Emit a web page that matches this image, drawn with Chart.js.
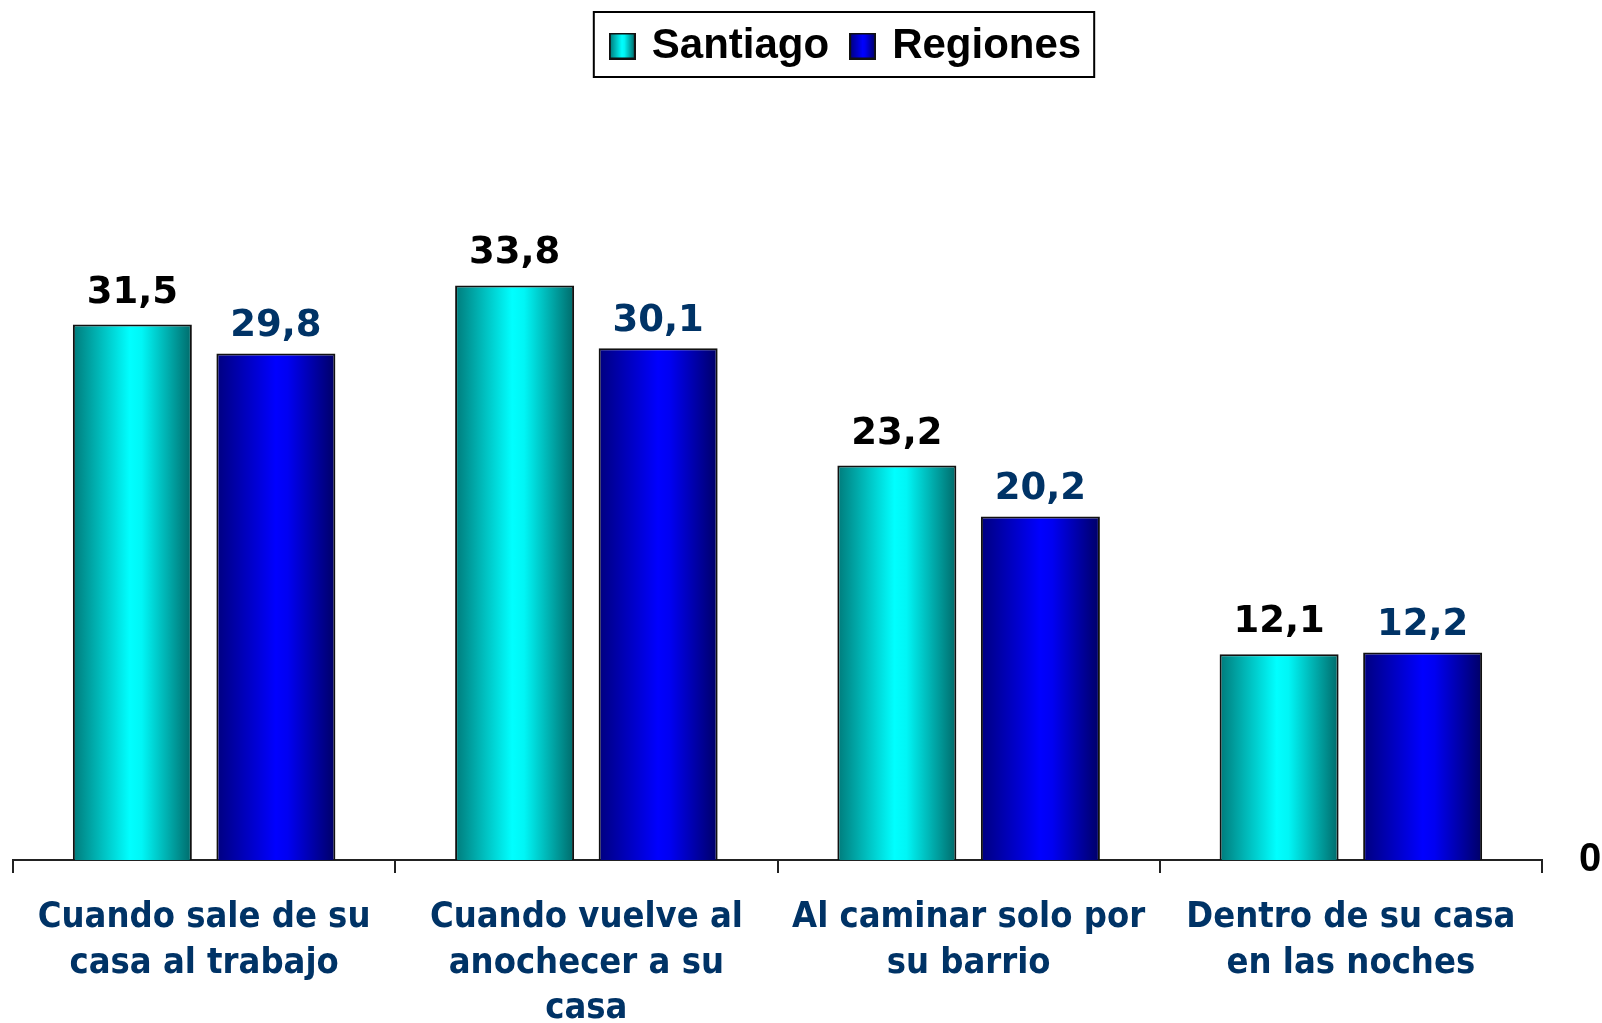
<!DOCTYPE html>
<html><head><meta charset="utf-8">
<script src="https://cdn.jsdelivr.net/npm/chart.js@4.4.1/dist/chart.umd.min.js"></script>
<style>html,body{margin:0;padding:0;background:#fff;} #wrap{width:1602px;height:1023px;position:relative;}</style>
</head><body><div id="wrap"><canvas id="c"></canvas></div>
<script>
const categories = [
  ["Cuando sale de su", "casa al trabajo"],
  ["Cuando vuelve al", "anochecer a su", "casa"],
  ["Al caminar solo por", "su barrio"],
  ["Dentro de su casa", "en las noches"]
];
const seriesNames = ["Santiago", "Regiones"];
const santiagoValues = [31.5, 33.8, 23.2, 12.1];
const regionesValues = [29.8, 30.1, 20.2, 12.2];
const yTickLabels = ["0"];

const CAT_PCT = 0.751, BAR_PCT = 0.829;
const gradStops = [
  [[0, '#007b7b'], [0.48, '#00ffff'], [0.58, '#00f6f6'], [1, '#006a6a']],
  [[0, '#00007f'], [0.5, '#0000ff'], [0.6, '#0000f2'], [1, '#000066']]
];
function barGradient(ctx) {
  const chart = ctx.chart; const xs = chart.scales.x;
  if (!xs || ctx.type !== 'data' || !xs.width) return gradStops[ctx.datasetIndex][1][1];
  const n = chart.data.labels.length;
  const catW = xs.width / n;
  const slot = catW * CAT_PCT / 2;
  const center = xs.getPixelForValue(ctx.dataIndex) + (ctx.datasetIndex === 0 ? -slot / 2 : slot / 2);
  const w = slot * BAR_PCT;
  const g = chart.ctx.createLinearGradient(center - w / 2, 0, center + w / 2, 0);
  gradStops[ctx.datasetIndex].forEach(s => g.addColorStop(s[0], s[1]));
  return g;
}
function makeSwatch(i) {
  const c = document.createElement('canvas'); c.width = 27; c.height = 27;
  const x = c.getContext('2d');
  const g = x.createLinearGradient(1, 0, 26, 0);
  gradStops[i].forEach(s => g.addColorStop(s[0], s[1]));
  x.fillStyle = g; x.fillRect(0, 0, 27, 27);
  x.strokeStyle = '#111'; x.lineWidth = 2; x.strokeRect(1, 1, 25, 25);
  return c;
}
const swatches = [makeSwatch(0), makeSwatch(1)];

const legendFrame = {
  id: 'legendFrame',
  beforeLayout(chart) {
    const lg = chart.legend;
    if (lg && !lg._fitPatched) {
      const orig = lg.fit;
      lg.fit = function () { orig.call(this); this.height = 180; };
      lg._fitPatched = true;
    }
  },
  afterLayout(chart) {
    const lg = chart.legend;
    if (lg) { lg.left += 40; lg.right += 40; }
  },
  afterDraw(chart) {
    const lg = chart.legend;
    if (!lg || !lg.legendHitBoxes || !lg.legendHitBoxes.length) return;
    const hb = lg.legendHitBoxes;
    const first = hb[0], last = hb[hb.length - 1];
    const ctx = chart.ctx;
    ctx.save();
    ctx.strokeStyle = '#000'; ctx.lineWidth = 2;
    const x1 = first.left - 20, x2 = last.left + last.width + 13;
    const cy = lg.top + 25 + 21;
    ctx.strokeRect(x1, cy - 34, x2 - x1, 65);
    ctx.restore();
  }
};

const valueLabels = {
  id: 'valueLabels',
  afterDatasetsDraw(chart) {
    const ctx = chart.ctx;
    ctx.save();
    ctx.font = "bold 37px 'DejaVu Sans', sans-serif";
    ctx.textAlign = 'center'; ctx.textBaseline = 'alphabetic';
    chart.data.datasets.forEach((ds, di) => {
      const meta = chart.getDatasetMeta(di);
      ctx.fillStyle = di === 0 ? '#000000' : '#003366';
      const off = di === 0 ? 22 : 17.5;
      meta.data.forEach((el, i) => {
        const txt = ds.data[i].toFixed(1).replace('.', ',');
        ctx.fillText(txt, el.x, el.y - off);
      });
    });
    ctx.restore();
  }
};

new Chart(document.getElementById('c'), {
  type: 'bar',
  data: {
    labels: categories,
    datasets: [
      { label: seriesNames[0], data: santiagoValues, backgroundColor: barGradient, borderColor: '#111', borderWidth: 2, categoryPercentage: CAT_PCT, barPercentage: BAR_PCT },
      { label: seriesNames[1], data: regionesValues, backgroundColor: barGradient, borderColor: '#111', borderWidth: 2, categoryPercentage: CAT_PCT, barPercentage: BAR_PCT }
    ]
  },
  options: {
    responsive: true, maintainAspectRatio: false, animation: false,
    layout: { padding: { left: 13, right: 0, top: 0, bottom: 0 } },
    plugins: {
      tooltip: { enabled: false },
      legend: {
        display: true, position: 'top',
        labels: {
          usePointStyle: true, pointStyleWidth: 17, boxWidth: 27, boxHeight: 27, padding: 25, color: '#000',
          font: { family: "'Liberation Sans', Arial, sans-serif", size: 42, weight: 'bold' },
          generateLabels(chart) {
            const items = Chart.defaults.plugins.legend.labels.generateLabels(chart);
            items.forEach(it => { it.pointStyle = swatches[it.datasetIndex]; it.lineWidth = 0; });
            return items;
          }
        }
      }
    },
    scales: {
      x: {
        offset: true,
        grid: { display: true, drawOnChartArea: false, drawTicks: true, tickLength: 13, color: '#222', lineWidth: 2, offset: true },
        border: { display: true, color: '#222', width: 2 },
        ticks: { color: '#003366', font: { family: "'DejaVu Sans Condensed', 'DejaVu Sans', sans-serif", size: 36, weight: 'bold', lineHeight: 1.264 }, padding: 22, maxRotation: 0, minRotation: 0, autoSkip: false },
        afterFit(s) { s.height = 163; }
      },
      y: {
        position: 'right', min: 0, max: 40,
        grid: { display: false, drawTicks: false, tickLength: 0 },
        border: { display: false },
        ticks: { stepSize: 40, padding: 37, color: '#000', font: { family: "'Liberation Sans', Arial, sans-serif", size: 40, weight: 'bold' }, callback: (v) => v === 0 ? yTickLabels[0] : '' },
        afterFit(s) { s.width = 60; }
      }
    }
  },
  plugins: [legendFrame, valueLabels]
});
</script></body></html>
